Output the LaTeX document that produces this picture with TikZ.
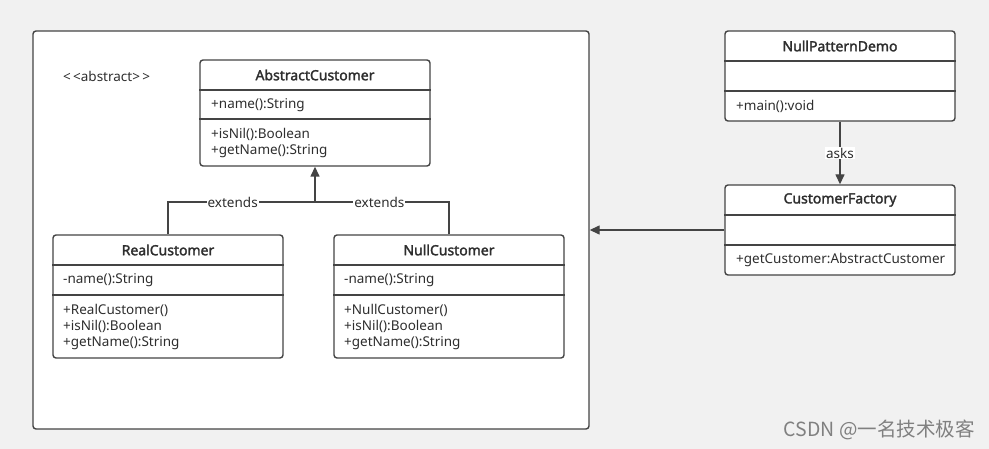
\documentclass[tikz,border=0pt]{standalone}
\usepackage{fontspec}
\setmainfont{Noto Sans}[BoldFont={Noto Sans}, BoldFeatures={FakeBold=2}]
\newfontfamily\cjk{Noto Sans CJK SC}
\usetikzlibrary{arrows.meta}
\definecolor{bg}{HTML}{F1F1F1}
\definecolor{ln}{HTML}{444444}
\definecolor{tx}{HTML}{2E2E2E}
\begin{document}
\begin{tikzpicture}[x=1pt,y=-1pt,
  box/.style={draw=ln, line width=1.4pt, fill=white, rounded corners=3pt, inner sep=0pt, minimum width=230pt},
  div/.style={draw=ln, line width=1.4pt},
  conn/.style={draw=ln, line width=1.4pt},
  tip/.style={-{Triangle[length=10pt,width=9pt]}},
  ttl/.style={font=\fontsize{14}{16}\selectfont\bfseries, text=tx, inner sep=0pt},
  txt/.style={font=\fontsize{13.5}{15}\selectfont, text=tx, anchor=west, inner sep=0pt},
  lbl/.style={font=\fontsize{13.5}{15}\selectfont, text=tx, fill=white, inner sep=1pt}]
\fill[bg] (0,0) rectangle (989,449);
\useasboundingbox (0,0) rectangle (989,449);

% container
\node[box, minimum width=556pt, minimum height=398pt] (pkg) at (311,230) {};
\node[txt] (abs) at (63,76) {<\,<abstract>\,>};

% AbstractCustomer
\node[box, minimum height=106pt] (ac) at (315,113) {};
\draw[div] (ac.west |- 0,90) -- (ac.east |- 0,90);
\draw[div] (ac.west |- 0,119) -- (ac.east |- 0,119);
\node[ttl] (act) at (315,75) {AbstractCustomer};
\node[txt] (ac1) at (211,105) {+name():String};
\node[txt] (ac2) at (211,134) {+isNil():Boolean};
\node[txt] (ac3) at (211,151) {+getName():String};

% RealCustomer
\node[box, minimum height=123pt] (rc) at (168,296.5) {};
\draw[div] (rc.west |- 0,265) -- (rc.east |- 0,265);
\draw[div] (rc.west |- 0,295) -- (rc.east |- 0,295);
\node[ttl] (rct) at (168,250) {RealCustomer};
\node[txt] (rc1) at (63,280) {-name():String};
\node[txt] (rc2) at (63,310) {+RealCustomer()};
\node[txt] (rc3) at (63,326) {+isNil():Boolean};
\node[txt] (rc4) at (63,343) {+getName():String};

% NullCustomer
\node[box, minimum height=123pt] (nc) at (449,296.5) {};
\draw[div] (nc.west |- 0,265) -- (nc.east |- 0,265);
\draw[div] (nc.west |- 0,295) -- (nc.east |- 0,295);
\node[ttl] (nct) at (449,250) {NullCustomer};
\node[txt] (nc1) at (344,280) {-name():String};
\node[txt] (nc2) at (344,310) {+NullCustomer()};
\node[txt] (nc3) at (344,326) {+isNil():Boolean};
\node[txt] (nc4) at (344,343) {+getName():String};

% NullPatternDemo
\node[box, minimum height=90pt] (nd) at (840,76) {};
\draw[div] (nd.west |- 0,61) -- (nd.east |- 0,61);
\draw[div] (nd.west |- 0,91) -- (nd.east |- 0,91);
\node[ttl] (ndt) at (840,46) {NullPatternDemo};
\node[txt] (nd1) at (736,106) {+main():void};

% CustomerFactory
\node[box, minimum height=90pt] (cf) at (840,230) {};
\draw[div] (cf.west |- 0,215) -- (cf.east |- 0,215);
\draw[div] (cf.west |- 0,245) -- (cf.east |- 0,245);
\node[ttl] (cft) at (840,200) {CustomerFactory};
\node[txt] (cf1) at (736,260) {+getCustomer:AbstractCustomer};

% connectors
\coordinate (j) at (315,202);
\draw[conn] (rc.north) |- (j) node[lbl, pos=0.72] (e1) {extends};
\draw[conn] (nc.north) |- (j) node[lbl, pos=0.76] (e2) {extends};
\draw[conn, tip] (j) -- (ac.south);
\draw[conn, tip] (nd.south) -- (cf.north) node[lbl, midway] (asks) {asks};
\draw[conn, tip] (cf.west) -- (cf.west -| pkg.east);

% watermark
\node[anchor=east, inner sep=0pt, text=black!50, font=\cjk\fontsize{19.5}{21}\selectfont] (wm) at (975,430) {CSDN @一名技术极客};
\end{tikzpicture}
\end{document}
